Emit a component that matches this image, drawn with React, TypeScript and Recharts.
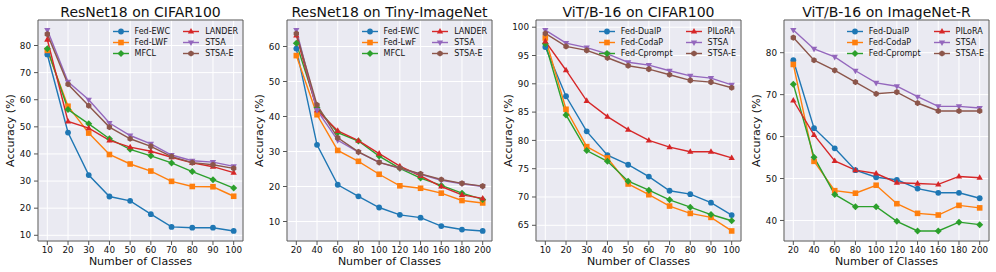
import React from 'react'
import { LineChart, Line, XAxis, YAxis, CartesianGrid, ReferenceArea, Legend } from 'recharts'

const classes100 = [10, 20, 30, 40, 50, 60, 70, 80, 90, 100]
const classes200 = [20, 40, 60, 80, 100, 120, 140, 160, 180, 200]

// ResNet18 on CIFAR100
const rc100Ewc = [76.7, 47.9, 32.2, 24.3, 22.7, 17.8, 13.1, 12.8, 12.8, 11.6]
const rc100Lwf = [78.2, 57.6, 47.7, 39.8, 36.3, 33.7, 29.9, 28.0, 27.9, 24.4]
const rc100Mfcl = [78.8, 56.4, 51.1, 45.6, 41.7, 39.3, 36.7, 33.5, 30.5, 27.4]
const rc100Lander = [82.2, 52.0, 49.5, 45.0, 42.5, 41.0, 38.8, 36.7, 35.3, 33.1]
const rc100Stsa = [85.7, 66.6, 60.0, 51.4, 46.8, 43.7, 39.6, 37.5, 37.0, 35.4]
const rc100StsaE = [84.2, 65.7, 57.8, 49.9, 45.6, 42.8, 39.0, 36.8, 36.0, 34.7]

// ResNet18 on Tiny-ImageNet
const rtinyEwc = [59.4, 31.9, 20.5, 17.2, 14.0, 11.9, 11.1, 8.7, 7.7, 7.3]
const rtinyLwf = [57.4, 40.5, 30.3, 27.2, 23.5, 20.2, 19.5, 18.1, 16.0, 15.3]
const rtinyMfcl = [60.9, 42.5, 35.4, 33.0, 28.7, 25.2, 22.4, 20.3, 18.1, 16.3]
const rtinyLander = [63.2, 41.8, 35.9, 33.1, 29.4, 25.8, 23.0, 20.0, 17.6, 16.6]
const rtinyStsa = [64.7, 41.8, 33.2, 29.8, 26.9, 25.2, 23.5, 21.8, 20.8, 20.0]
const rtinyStsaE = [63.7, 43.3, 33.9, 29.9, 26.9, 25.3, 23.6, 22.0, 20.9, 20.1]

// ViT/B-16 on CIFAR100
const vc100DualP = [96.5, 87.8, 81.6, 77.4, 75.7, 73.6, 71.1, 70.5, 69.0, 66.8]
const vc100CodaP = [98.1, 85.5, 78.9, 76.9, 72.3, 70.4, 68.4, 67.1, 66.4, 64.0]
const vc100Cprompt = [97.1, 84.5, 78.2, 76.3, 72.8, 71.2, 69.5, 68.2, 66.9, 65.8]
const vc100Pilora = [97.5, 92.4, 87.0, 84.2, 81.9, 80.0, 78.8, 78.0, 78.0, 76.9]
const vc100Stsa = [99.5, 97.2, 96.4, 95.3, 93.8, 93.3, 92.3, 91.4, 91.0, 89.8]
const vc100StsaE = [98.9, 96.6, 95.9, 94.6, 93.2, 92.6, 91.6, 90.6, 90.3, 89.3]

// ViT/B-16 on ImageNet-R
const vinrDualP = [78.2, 62.0, 57.2, 52.0, 50.3, 49.7, 47.6, 46.6, 46.6, 45.3]
const vinrCodaP = [77.2, 54.1, 47.1, 46.5, 48.4, 44.0, 41.7, 41.3, 43.6, 43.0]
const vinrCprompt = [72.5, 55.1, 46.2, 43.3, 43.3, 39.8, 37.5, 37.5, 39.6, 39.0]
const vinrPilora = [68.6, 60.4, 54.2, 52.0, 51.2, 49.0, 48.8, 48.6, 50.5, 50.2]
const vinrStsa = [85.4, 80.9, 79.0, 75.7, 72.8, 72.0, 69.5, 67.2, 67.2, 66.8]
const vinrStsaE = [83.6, 78.2, 75.8, 73.0, 70.2, 70.6, 68.0, 66.1, 66.1, 66.1]

const ticksRc100 = [10, 20, 30, 40, 50, 60, 70, 80]
const ticksRtiny = [10, 20, 30, 40, 50, 60]
const ticksVc100 = [65, 70, 75, 80, 85, 90, 95, 100]
const ticksVinr = [40, 50, 60, 70, 80]

const resnetNames100 = ['Fed-EWC', 'Fed-LWF', 'MFCL', 'LANDER', 'STSA', 'STSA-E']
const resnetNamesTiny = ['Fed-EWC', 'Fed-LwF', 'MFCL', 'LANDER', 'STSA', 'STSA-E']
const vitNames = ['Fed-DualP', 'Fed-CodaP', 'Fed-Cprompt', 'PILoRA', 'STSA', 'STSA-E']

const COLORS = ['#1f77b4', '#ff7f0e', '#2ca02c', '#d62728', '#9467bd', '#8c564b']
const MARKERS = ['circle', 'square', 'diamond', 'up', 'down', 'hex']
const FONT = '"DejaVu Sans", sans-serif'
const TEXT = '#111'

const panels = [
  { title: 'ResNet18 on CIFAR100', xs: classes100, yTicks: ticksRc100, names: resnetNames100,
    values: [rc100Ewc, rc100Lwf, rc100Mfcl, rc100Lander, rc100Stsa, rc100StsaE] },
  { title: 'ResNet18 on Tiny-ImageNet', xs: classes200, yTicks: ticksRtiny, names: resnetNamesTiny,
    values: [rtinyEwc, rtinyLwf, rtinyMfcl, rtinyLander, rtinyStsa, rtinyStsaE] },
  { title: 'ViT/B-16 on CIFAR100', xs: classes100, yTicks: ticksVc100, names: vitNames,
    values: [vc100DualP, vc100CodaP, vc100Cprompt, vc100Pilora, vc100Stsa, vc100StsaE] },
  { title: 'ViT/B-16 on ImageNet-R', xs: classes200, yTicks: ticksVinr, names: vitNames,
    values: [vinrDualP, vinrCodaP, vinrCprompt, vinrPilora, vinrStsa, vinrStsaE] },
]

const panelLeft = [0, 249, 498, 746]

// matplotlib style 5% margins
function padded(lo: number, hi: number) {
  const d = (hi - lo) * 0.05
  return [lo - d, hi + d]
}

function Marker({ kind, cx, cy, color }: { kind: string; cx: number; cy: number; color: string }) {
  if (kind === 'circle') return <circle cx={cx} cy={cy} r={2.9} fill={color} />
  if (kind === 'square') return <rect x={cx - 2.8} y={cy - 2.8} width={5.6} height={5.6} fill={color} />
  if (kind === 'diamond') {
    const r = 3.5
    return <polygon points={`${cx},${cy - r} ${cx + r},${cy} ${cx},${cy + r} ${cx - r},${cy}`} fill={color} />
  }
  if (kind === 'up') {
    const r = 3.5
    return <polygon points={`${cx},${cy - r} ${cx + r * 0.9},${cy + r * 0.6} ${cx - r * 0.9},${cy + r * 0.6}`} fill={color} />
  }
  if (kind === 'down') {
    const r = 3.5
    return <polygon points={`${cx},${cy + r} ${cx + r * 0.9},${cy - r * 0.6} ${cx - r * 0.9},${cy - r * 0.6}`} fill={color} />
  }
  const r = 3.1
  const pts = [0, 1, 2, 3, 4, 5]
    .map(k => {
      const a = (Math.PI / 3) * k + Math.PI / 2
      return `${cx + r * Math.cos(a)},${cy + r * Math.sin(a)}`
    })
    .join(' ')
  return <polygon points={pts} fill={color} />
}

function LegendBox({ names }: { names: string[] }) {
  return (
    <div
      style={{
        display: 'grid',
        gridTemplateRows: 'repeat(3, 11px)',
        gridAutoFlow: 'column',
        columnGap: 13,
        fontFamily: FONT,
        fontSize: 8,
        color: TEXT,
      }}
    >
      {names.map((n, i) => (
        <div key={n + i} style={{ display: 'flex', alignItems: 'center', whiteSpace: 'nowrap' }}>
          <svg width={16} height={9} style={{ marginRight: 6 }}>
            <line x1={0} y1={4.5} x2={16} y2={4.5} stroke={COLORS[i]} strokeWidth={1.4} />
            <Marker kind={MARKERS[i]} cx={8} cy={4.5} color={COLORS[i]} />
          </svg>
          <span>{n}</span>
        </div>
      ))}
    </div>
  )
}

function Panel({ panel, left }: { panel: (typeof panels)[number]; left: number }) {
  const data = panel.xs.map((x, i) => {
    const row: Record<string, number> = { x }
    panel.values.forEach((v, s) => (row['s' + s] = v[i]))
    return row
  })
  const all = panel.values.flat()
  const yDomain = padded(Math.min(...all), Math.max(...all))
  const xDomain = padded(panel.xs[0], panel.xs[panel.xs.length - 1])

  return (
    <div style={{ position: 'absolute', left, top: 0, width: 249, height: 272 }}>
      <div
        style={{
          position: 'absolute', left: 38, top: 0, width: 205, height: 24, lineHeight: '24px',
          textAlign: 'center', fontFamily: FONT, fontSize: 14, color: TEXT, whiteSpace: 'nowrap',
        }}
      >
        {panel.title}
      </div>
      <LineChart width={249} height={272} data={data} margin={{ top: 20, right: 6, bottom: 0, left: 0 }}>
        <CartesianGrid fill="#eaeaf2" fillOpacity={1} stroke="#ffffff" strokeWidth={1} />
        <XAxis
          dataKey="x"
          type="number"
          domain={xDomain}
          allowDataOverflow
          ticks={panel.xs}
          interval={0}
          height={31}
          axisLine={false}
          tickSize={4}
          tickMargin={2}
          tickLine={{ stroke: '#555' }}
          tick={{ fontSize: 8.8, fill: TEXT, fontFamily: FONT }}
          label={{ value: 'Number of Classes', position: 'insideBottom', offset: 7, fontSize: 11, fill: TEXT, fontFamily: FONT }}
        />
        <YAxis
          type="number"
          domain={yDomain}
          allowDataOverflow
          ticks={panel.yTicks}
          interval={0}
          width={38}
          axisLine={false}
          tickSize={4}
          tickMargin={3}
          tickLine={{ stroke: '#555' }}
          tick={{ fontSize: 8.8, fill: TEXT, fontFamily: FONT }}
          label={{
            value: 'Accuracy (%)', angle: -90, position: 'insideLeft', offset: 10,
            fontSize: 11, fill: TEXT, fontFamily: FONT, style: { textAnchor: 'middle' },
          }}
        />
        <ReferenceArea x1={xDomain[0]} x2={xDomain[1]} y1={yDomain[0]} y2={yDomain[1]} fill="none" stroke="#555" strokeWidth={1} />
        {panel.names.map((n, s) => (
          <Line
            key={n}
            dataKey={'s' + s}
            name={n}
            type="linear"
            stroke={COLORS[s]}
            strokeWidth={1.4}
            isAnimationActive={false}
            activeDot={false}
            dot={(p: any) => (
              <Marker key={`${n}-${p.index}`} kind={MARKERS[s]} cx={p.cx} cy={p.cy} color={COLORS[s]} />
            )}
          />
        ))}
        <Legend
          layout="vertical"
          align="center"
          verticalAlign="middle"
          wrapperStyle={{ top: 26, right: 11, left: 'auto', width: 'auto' }}
          content={() => <LegendBox names={panel.names} />}
        />
      </LineChart>
    </div>
  )
}

export default function App() {
  return (
    <div style={{ position: 'absolute', left: 0, top: 0, width: 996, height: 272, background: '#fff' }}>
      {panels.map((p, i) => (
        <Panel key={p.title} panel={p} left={panelLeft[i]} />
      ))}
    </div>
  )
}
